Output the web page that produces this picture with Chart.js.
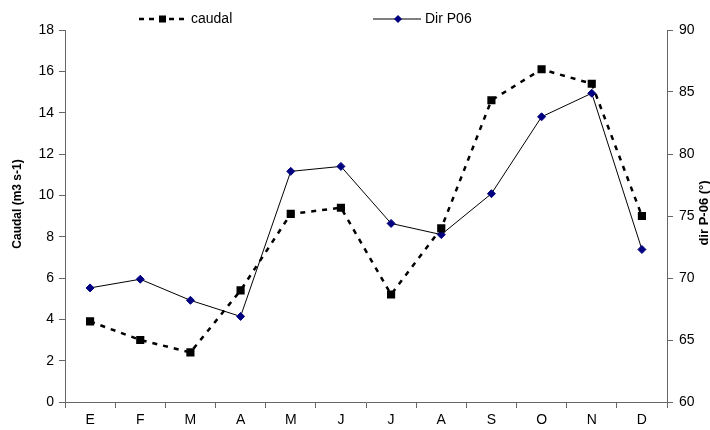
<!DOCTYPE html>
<html>
<head>
<meta charset="utf-8">
<script src="https://cdn.jsdelivr.net/npm/chart.js@4/dist/chart.umd.min.js"></script>
<style>
    html, body { margin: 0; padding: 0; background: #fff; }
    #wrap { width: 710px; height: 430px; }
</style>
</head>
<body>
<div id="wrap"><canvas id="chart" width="710" height="430"></canvas></div>
<script>
// data
const months = ['E', 'F', 'M', 'A', 'M', 'J', 'J', 'A', 'S', 'O', 'N', 'D'];
const caudal = [3.9, 3.0, 2.4, 5.4, 9.1, 9.4, 5.2, 8.4, 14.6, 16.1, 15.4, 9.0];
const dirP06 = [69.2, 69.9, 68.2, 66.9, 78.6, 79.0, 74.4, 73.5, 76.8, 83.0, 84.9, 72.3];
const leftTicks = [0, 2, 4, 6, 8, 10, 12, 14, 16, 18];
const rightTicks = [60, 65, 70, 75, 80, 85, 90];

const axisColor = '#666';
const fontFamily = 'Liberation Sans, Arial, sans-serif';
const font = { family: fontFamily, size: 14 };

// legend and both axis titles drawn by hand
const extras = {
    id: 'extras',
    afterDraw(chart) {
        let ctx = chart.ctx;
        ctx.save();
        ctx.font = '14px ' + fontFamily;
        ctx.textBaseline = 'middle';
        ctx.fillStyle = '#000';
        let y = 19;

        // caudal
        ctx.strokeStyle = '#000';
        ctx.lineWidth = 2.5;
        ctx.setLineDash([5, 5]);
        ctx.beginPath();
        ctx.moveTo(139, y);
        ctx.lineTo(187, y);
        ctx.stroke();
        ctx.setLineDash([]);
        ctx.fillRect(159, y - 3.5, 7, 7);
        ctx.fillText('caudal', 191, y);

        // Dir P06
        ctx.lineWidth = 1;
        ctx.beginPath();
        ctx.moveTo(373, y);
        ctx.lineTo(421, y);
        ctx.stroke();
        ctx.fillStyle = '#000080';
        ctx.beginPath();
        ctx.moveTo(398, y - 4);
        ctx.lineTo(402, y);
        ctx.lineTo(398, y + 4);
        ctx.lineTo(394, y);
        ctx.closePath();
        ctx.fill();
        ctx.fillStyle = '#000';
        ctx.fillText('Dir P06', 425, y);

        // axis titles, both read bottom to top
        ctx.textAlign = 'center';
        ctx.font = 'bold 12px ' + fontFamily;
        ctx.save();
        ctx.translate(18, 204);
        ctx.rotate(-Math.PI / 2);
        ctx.fillText('Caudal (m3 s-1)', 0, 0);
        ctx.restore();
        ctx.font = 'bold 13px ' + fontFamily;
        ctx.save();
        ctx.translate(704, 213);
        ctx.rotate(-Math.PI / 2);
        ctx.fillText('dir P-06 (°)', 0, 0);
        ctx.restore();

        ctx.restore();
    }
};

new Chart(document.getElementById('chart'), {
    type: 'line',
    data: {
        labels: months,
        datasets: [
            {
                label: 'caudal',
                data: caudal,
                yAxisID: 'y',
                borderColor: '#000',
                borderWidth: 2.5,
                borderDash: [5, 6],
                pointStyle: 'rect',
                pointRadius: 4,
                pointBackgroundColor: '#000',
                pointBorderColor: '#000',
                tension: 0
            },
            {
                label: 'Dir P06',
                data: dirP06,
                yAxisID: 'y1',
                borderColor: '#000',
                borderWidth: 1,
                pointStyle: 'rectRot',
                pointRadius: 4,
                pointBackgroundColor: '#000080',
                pointBorderColor: '#000080',
                tension: 0
            }
        ]
    },
    options: {
        responsive: false,
        animation: false,
        layout: { padding: { top: 30, left: 0, right: 0, bottom: 0 } },
        plugins: {
            legend: { display: false },
            tooltip: { enabled: false }
        },
        scales: {
            x: {
                offset: true,
                grid: {
                    offset: true,
                    drawOnChartArea: false,
                    drawTicks: true,
                    tickLength: 6,
                    color: axisColor
                },
                border: { color: axisColor, width: 1 },
                ticks: { color: '#000', font: font, padding: 4, maxRotation: 0 },
                afterFit(scale) { scale.height = 28; }
            },
            y: {
                position: 'left',
                min: 0,
                max: 18,
                afterBuildTicks(scale) { scale.ticks = leftTicks.map(v => ({ value: v })); },
                grid: { drawOnChartArea: false, tickLength: 6, color: axisColor },
                border: { color: axisColor, width: 1 },
                ticks: { color: '#000', font: font, padding: 5 },
                afterFit(scale) { scale.width = 65; }
            },
            y1: {
                position: 'right',
                min: 60,
                max: 90,
                afterBuildTicks(scale) { scale.ticks = rightTicks.map(v => ({ value: v })); },
                grid: { drawOnChartArea: false, tickLength: 6, color: axisColor },
                border: { color: axisColor, width: 1 },
                ticks: { color: '#000', font: font, padding: 6 },
                afterFit(scale) { scale.width = 43; }
            }
        }
    },
    plugins: [extras]
});
</script>
</body>
</html>
